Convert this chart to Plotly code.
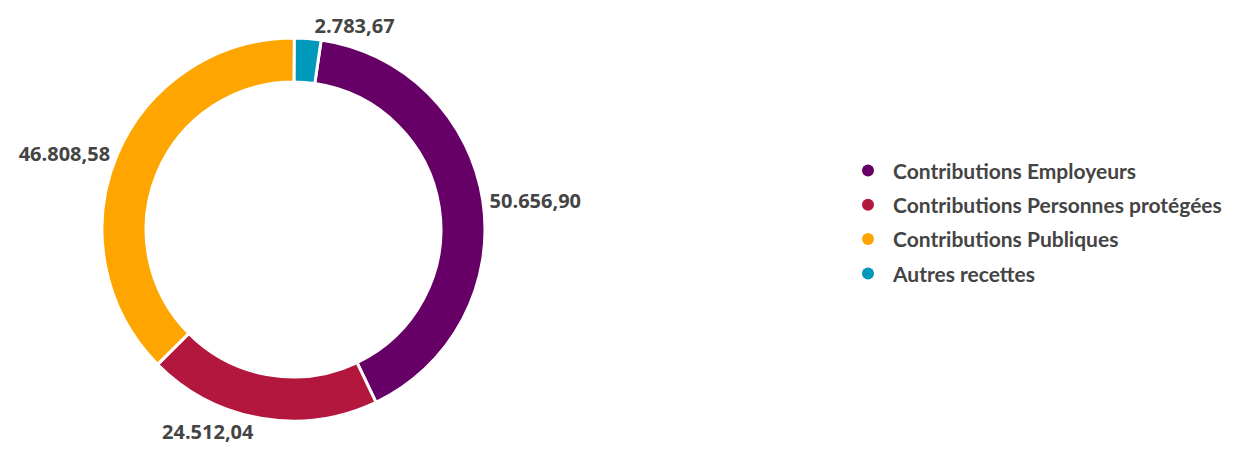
import plotly.graph_objects as go

labels = ["Contributions Employeurs", "Contributions Personnes protégées",
          "Contributions Publiques", "Autres recettes"]
values = [50656.90, 24512.04, 46808.58, 2783.67]
colors = ["#660066", "#B3173D", "#FFA500", "#0099BB"]


def fmt(v):
    s = f"{v:,.2f}"
    return s.replace(",", "X").replace(".", ",").replace("X", ".")


texts = [fmt(v) for v in values]

fig = go.Figure()
fig.add_trace(go.Pie(
    labels=labels, values=values, text=texts, textinfo="text",
    textposition="outside", hole=0.77, sort=False, direction="clockwise",
    rotation=8.3,
    marker=dict(colors=colors, line=dict(color="white", width=3)),
    textfont=dict(family="Open Sans", size=20, color="#444444", weight="bold"),
    domain=dict(x=[94 / 1238, 477 / 1238], y=[48 / 461, 431 / 461]),
    showlegend=False, hoverinfo="label+value",
))
for i, (lab, col) in enumerate(zip(labels, colors)):
    fig.add_trace(go.Scatter(
        x=[None], y=[None], mode="markers", name=lab, legendgroup=f"g{i}",
        marker=dict(symbol="circle", size=15, color=col),
    ))

fig.update_layout(
    width=1238, height=461,
    margin=dict(l=0, r=0, t=0, b=0),
    paper_bgcolor="white", plot_bgcolor="white",
    xaxis=dict(visible=False), yaxis=dict(visible=False),
    legend=dict(x=835 / 1238, y=0.535, xanchor="left", yanchor="middle",
                font=dict(family="Lato", size=21, color="#444444", weight="bold"),
                itemsizing="constant", tracegroupgap=4, itemwidth=40),
)
fig.write_html("out.html")
